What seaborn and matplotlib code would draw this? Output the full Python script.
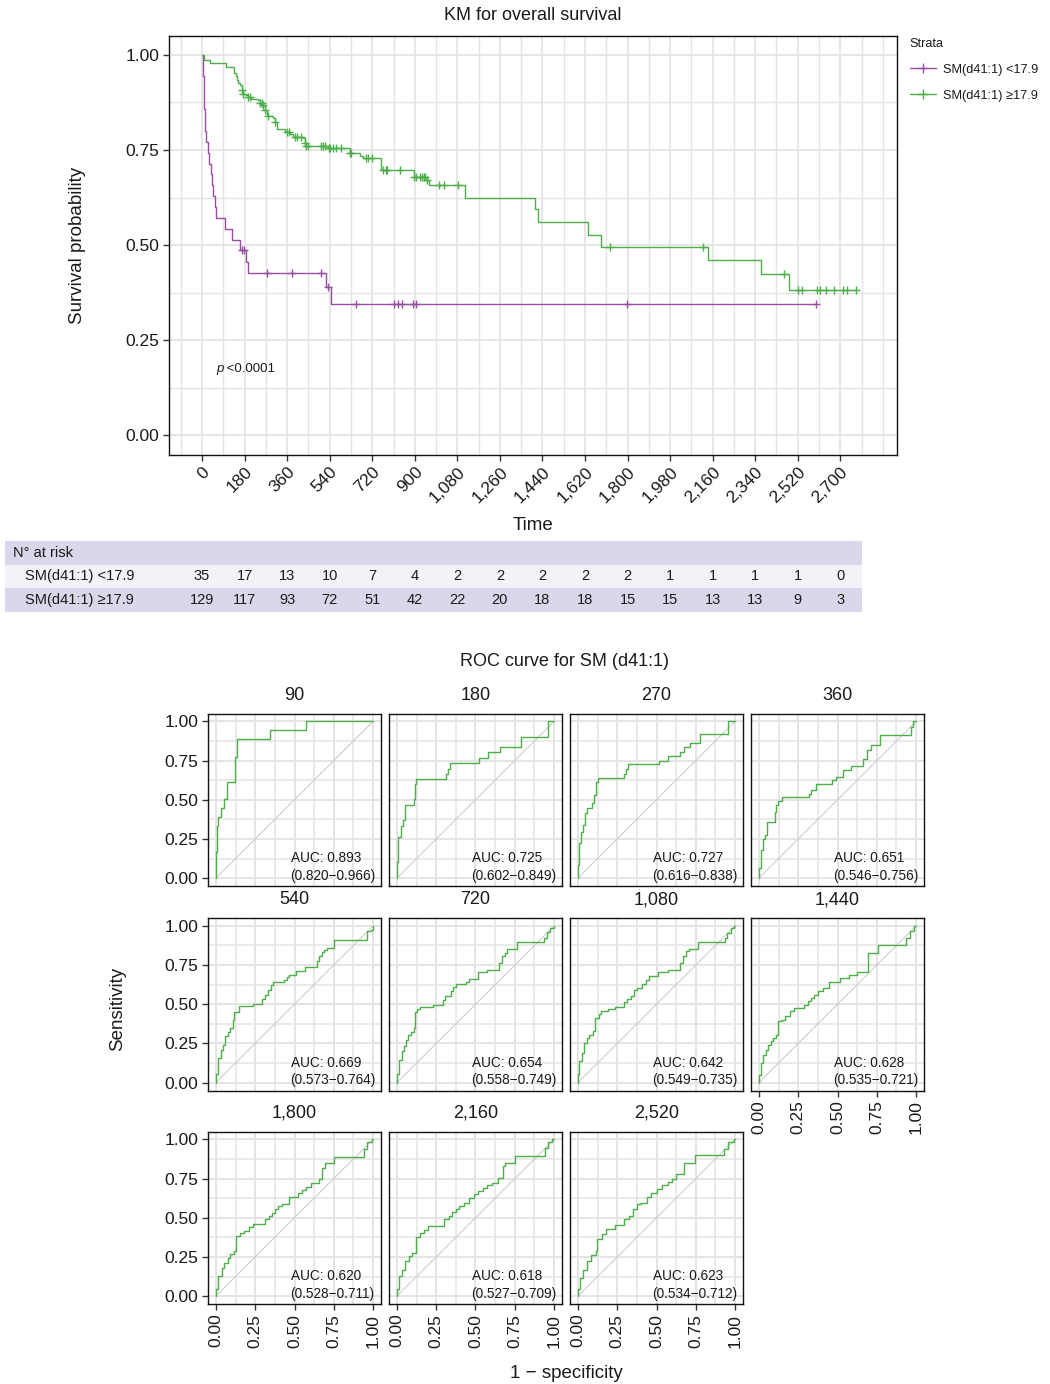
import numpy as np
import pandas as pd
import matplotlib
matplotlib.use("Agg")
import matplotlib.pyplot as plt
import seaborn as sns
from matplotlib.lines import Line2D
from matplotlib.patches import Rectangle
from matplotlib.ticker import MultipleLocator, FixedLocator

# ---------------------------------------------------------------- data
group_labels = ["SM(d41:1) <17.9", "SM(d41:1) \u226517.9"]
group_colors = ["#984EA3", "#4DAF4A"]

# Kaplan-Meier steps: event times (days) and survival after each step
km_time_lo = [0, 2, 4, 6, 8, 10, 12, 14, 18, 23, 30, 36, 41, 48, 53, 59,
              97, 125, 160, 186, 195, 526, 547]
km_surv_lo = [1.0, 0.971, 0.943, 0.914, 0.886, 0.857, 0.829, 0.800, 0.771,
              0.743, 0.714, 0.686, 0.657, 0.629, 0.600, 0.571, 0.543, 0.514,
              0.486, 0.456, 0.426, 0.389, 0.344]
km_censor_lo = [167, 177, 276, 381, 502, 533, 650, 811, 828, 847, 892, 906,
                1799, 2596]

km_time_hi = [0, 6, 34, 100, 136, 142, 146, 153, 160, 167, 174, 186, 195,
              205, 238, 245, 259, 266, 273, 280, 301, 308, 318, 350, 371,
              385, 427, 434, 441, 533, 624, 666, 680, 758, 898, 950, 958,
              1114, 1409, 1422, 1633, 1686, 2141, 2364, 2484]
km_surv_hi = [1.0, 0.986, 0.977, 0.968, 0.953, 0.945, 0.933, 0.926, 0.920,
              0.907, 0.898, 0.894, 0.890, 0.885, 0.881, 0.874, 0.868, 0.855,
              0.842, 0.839, 0.833, 0.824, 0.806, 0.798, 0.793, 0.785, 0.780,
              0.767, 0.760, 0.754, 0.741, 0.734, 0.728, 0.697, 0.680, 0.672,
              0.658, 0.625, 0.594, 0.560, 0.527, 0.495, 0.460, 0.424, 0.382]
km_censor_hi = [167, 174, 195, 203, 245, 252, 259, 266, 280, 308, 361, 368,
                392, 402, 420, 434, 441, 448, 502, 512, 522, 537, 543, 554,
                568, 589, 627, 631, 695, 702, 720, 765, 776, 783, 838, 898,
                905, 922, 931, 938, 943, 952, 1004, 1025, 1084, 1726, 2119,
                2460, 2520, 2537, 2600, 2615, 2638, 2675, 2713, 2727, 2765]

risk_times = list(range(0, 2701, 180))
risk_lo = [35, 17, 13, 10, 7, 4, 2, 2, 2, 2, 2, 1, 1, 1, 1, 0]
risk_hi = [129, 117, 93, 72, 51, 42, 22, 20, 18, 18, 15, 15, 13, 13, 9, 3]

p_value_text = "<0.0001"

# time-dependent ROC curves (1 - specificity, sensitivity)
roc_fpr_90 = [0, 0, 0.006, 0.011, 0.032, 0.054, 0.069, 0.122, 0.124, 0.124, 0.133, 0.137, 0.347, 0.574, 1.0]
roc_tpr_90 = [0, 0.17, 0.33, 0.39, 0.446, 0.503, 0.611, 0.665, 0.72, 0.775, 0.834, 0.89, 0.945, 1.0, 1.0]

roc_fpr_180 = [0, 0, 0.009, 0.028, 0.036, 0.049, 0.107, 0.113, 0.122, 0.310, 0.323, 0.338, 0.525, 0.578, 0.653, 0.790, 0.964, 1.0]
roc_tpr_180 = [0, 0.102, 0.265, 0.333, 0.372, 0.465, 0.503, 0.599, 0.633, 0.665, 0.699, 0.735, 0.769, 0.803, 0.837, 0.902, 1.0, 1.0]

roc_fpr_270 = [0, 0, 0.009, 0.017, 0.030, 0.045, 0.058, 0.092, 0.101, 0.113, 0.131, 0.293, 0.304, 0.321, 0.514, 0.574, 0.651, 0.672, 0.715, 0.779, 0.957, 1.0]
roc_tpr_270 = [0, 0.085, 0.223, 0.297, 0.340, 0.414, 0.446, 0.482, 0.531, 0.616, 0.641, 0.665, 0.694, 0.728, 0.749, 0.779, 0.807, 0.837, 0.864, 0.919, 1.0, 1.0]

roc_fpr_360 = [0, 0, 0.011, 0.026, 0.039, 0.054, 0.103, 0.111, 0.124, 0.146, 0.317, 0.332, 0.364, 0.467, 0.488, 0.535, 0.589, 0.664, 0.690, 0.711, 0.771, 0.968, 0.981, 1.0]
roc_tpr_360 = [0, 0.064, 0.180, 0.248, 0.276, 0.355, 0.425, 0.467, 0.493, 0.516, 0.535, 0.563, 0.601, 0.626, 0.648, 0.690, 0.716, 0.758, 0.817, 0.849, 0.913, 0.966, 1.0, 1.0]

roc_fpr_540 = [0, 0, 0.011, 0.032, 0.047, 0.060, 0.075, 0.090, 0.107, 0.118, 0.146, 0.236, 0.296, 0.310, 0.332, 0.349, 0.364, 0.435, 0.454, 0.467, 0.510, 0.567, 0.642, 0.657, 0.675, 0.690, 0.707, 0.754, 0.964, 0.985, 1.0]
roc_tpr_540 = [0, 0.057, 0.157, 0.210, 0.242, 0.295, 0.321, 0.348, 0.401, 0.450, 0.486, 0.503, 0.535, 0.556, 0.588, 0.620, 0.641, 0.656, 0.673, 0.684, 0.715, 0.737, 0.775, 0.807, 0.832, 0.847, 0.858, 0.911, 0.966, 0.975, 1.0]

roc_fpr_720 = [0, 0, 0.013, 0.030, 0.047, 0.060, 0.073, 0.088, 0.109, 0.116, 0.131, 0.146, 0.227, 0.291, 0.308, 0.345, 0.355, 0.373, 0.441, 0.458, 0.516, 0.570, 0.651, 0.666, 0.687, 0.702, 0.762, 0.934, 0.955, 0.976, 0.998, 1.0]
roc_tpr_720 = [0, 0.057, 0.146, 0.200, 0.231, 0.274, 0.306, 0.321, 0.348, 0.448, 0.469, 0.480, 0.497, 0.529, 0.550, 0.582, 0.609, 0.631, 0.645, 0.660, 0.703, 0.720, 0.762, 0.805, 0.830, 0.851, 0.900, 0.921, 0.958, 0.985, 1.0, 1.0]

roc_fpr_1080 = [0, 0, 0.009, 0.026, 0.039, 0.058, 0.073, 0.094, 0.111, 0.133, 0.150, 0.193, 0.236, 0.293, 0.315, 0.336, 0.358, 0.379, 0.407, 0.433, 0.450, 0.507, 0.572, 0.651, 0.668, 0.690, 0.707, 0.764, 0.936, 0.951, 0.972, 0.994, 1.0]
roc_tpr_1080 = [0, 0.057, 0.136, 0.189, 0.253, 0.285, 0.306, 0.327, 0.412, 0.439, 0.454, 0.469, 0.482, 0.512, 0.533, 0.550, 0.592, 0.603, 0.631, 0.652, 0.677, 0.703, 0.720, 0.762, 0.805, 0.837, 0.851, 0.894, 0.921, 0.953, 0.985, 1.0, 1.0]

roc_fpr_1440 = [0, 0, 0.011, 0.026, 0.043, 0.060, 0.075, 0.092, 0.111, 0.124, 0.150, 0.167, 0.197, 0.225, 0.289, 0.310, 0.332, 0.353, 0.375, 0.407, 0.445, 0.514, 0.574, 0.621, 0.692, 0.756, 0.938, 0.959, 0.985, 1.0]
roc_tpr_1440 = [0, 0.051, 0.125, 0.178, 0.210, 0.242, 0.263, 0.285, 0.306, 0.391, 0.401, 0.423, 0.454, 0.476, 0.497, 0.518, 0.539, 0.561, 0.582, 0.603, 0.645, 0.667, 0.688, 0.703, 0.830, 0.879, 0.921, 0.964, 1.0, 1.0]

roc_fpr_1800 = [0, 0, 0.012, 0.037, 0.054, 0.074, 0.091, 0.115, 0.128, 0.152, 0.177, 0.209, 0.233, 0.312, 0.337, 0.356, 0.373, 0.398, 0.423, 0.464, 0.521, 0.545, 0.570, 0.607, 0.656, 0.676, 0.693, 0.754, 0.939, 0.963, 0.995, 1.0]
roc_tpr_1800 = [0, 0.047, 0.128, 0.181, 0.213, 0.245, 0.266, 0.287, 0.383, 0.404, 0.415, 0.443, 0.462, 0.489, 0.511, 0.532, 0.557, 0.574, 0.589, 0.634, 0.655, 0.677, 0.696, 0.719, 0.745, 0.819, 0.851, 0.889, 0.940, 0.983, 1.0, 1.0]

roc_fpr_2160 = [0, 0, 0.012, 0.034, 0.054, 0.074, 0.098, 0.120, 0.145, 0.172, 0.197, 0.300, 0.329, 0.349, 0.373, 0.398, 0.428, 0.459, 0.491, 0.516, 0.545, 0.570, 0.607, 0.644, 0.673, 0.688, 0.754, 0.939, 0.963, 0.988, 1.0]
roc_tpr_2160 = [0, 0.043, 0.128, 0.170, 0.223, 0.255, 0.277, 0.379, 0.400, 0.421, 0.447, 0.489, 0.511, 0.536, 0.557, 0.574, 0.596, 0.628, 0.649, 0.670, 0.691, 0.709, 0.723, 0.755, 0.830, 0.851, 0.894, 0.947, 0.983, 1.0, 1.0]

roc_fpr_2520 = [0, 0, 0.015, 0.032, 0.057, 0.081, 0.113, 0.123, 0.155, 0.180, 0.236, 0.296, 0.328, 0.352, 0.377, 0.401, 0.438, 0.463, 0.500, 0.537, 0.574, 0.599, 0.623, 0.672, 0.746, 0.931, 0.956, 0.993, 1.0]
roc_tpr_2520 = [0, 0.047, 0.117, 0.170, 0.223, 0.260, 0.287, 0.366, 0.394, 0.426, 0.451, 0.489, 0.511, 0.557, 0.585, 0.596, 0.634, 0.660, 0.681, 0.706, 0.728, 0.749, 0.781, 0.851, 0.898, 0.940, 0.983, 1.0, 1.0]

roc_times = ["90", "180", "270", "360", "540", "720", "1,080", "1,440",
             "1,800", "2,160", "2,520"]
roc_auc = ["0.893", "0.725", "0.727", "0.651", "0.669", "0.654", "0.642",
           "0.628", "0.620", "0.618", "0.623"]
roc_ci = [("0.820", "0.966"), ("0.602", "0.849"), ("0.616", "0.838"),
          ("0.546", "0.756"), ("0.573", "0.764"), ("0.558", "0.749"),
          ("0.549", "0.735"), ("0.535", "0.721"), ("0.528", "0.711"),
          ("0.527", "0.709"), ("0.534", "0.712")]
roc_curves = [
    (roc_fpr_90, roc_tpr_90), (roc_fpr_180, roc_tpr_180),
    (roc_fpr_270, roc_tpr_270), (roc_fpr_360, roc_tpr_360),
    (roc_fpr_540, roc_tpr_540), (roc_fpr_720, roc_tpr_720),
    (roc_fpr_1080, roc_tpr_1080), (roc_fpr_1440, roc_tpr_1440),
    (roc_fpr_1800, roc_tpr_1800), (roc_fpr_2160, roc_tpr_2160),
    (roc_fpr_2520, roc_tpr_2520),
]

# ---------------------------------------------------------------- style
sns.set_theme(style="white")
plt.rcParams["font.family"] = ["Liberation Sans", "DejaVu Sans"]
plt.rcParams["axes.unicode_minus"] = True

W, H = 1050, 1384
fig = plt.figure(figsize=(W / 100, H / 100), dpi=100)
GRID = "#e4e4e4"
TXT = "#1a1a1a"


def px_axes(left, top, right, bottom):
    return fig.add_axes([left / W, 1 - bottom / H, (right - left) / W,
                         (bottom - top) / H])


def frame(ax):
    for s in ax.spines.values():
        s.set_visible(True)
        s.set_color("#111111")
        s.set_linewidth(1.0)


# ---------------------------------------------------------------- KM plot
KM_L, KM_T, KM_R, KM_B = 169, 35.7, 897, 454.5
KM_XLIM = (-140, 2940)
ax = px_axes(KM_L, KM_T, KM_R, KM_B)
ax.set_xlim(*KM_XLIM)
ax.set_ylim(-0.05, 1.05)
ax.set_axisbelow(True)
frame(ax)

ax.xaxis.set_major_locator(FixedLocator(risk_times))
ax.xaxis.set_minor_locator(MultipleLocator(90))
ax.yaxis.set_major_locator(MultipleLocator(0.25))
ax.yaxis.set_minor_locator(MultipleLocator(0.125))
ax.grid(True, which="major", color=GRID, lw=1.3)
ax.grid(True, which="minor", color=GRID, lw=1.0)
ax.set_xticks(risk_times)
ax.set_xticklabels([f"{t:,}" for t in risk_times])
ax.set_yticks([0, 0.25, 0.5, 0.75, 1.0])
ax.set_yticklabels(["0.00", "0.25", "0.50", "0.75", "1.00"])
ax.tick_params(which="major", length=4, width=1.0, color="#333333",
               labelsize=12.5, labelcolor=TXT, pad=3, bottom=True, left=True)
ax.tick_params(which="minor", length=0)
plt.setp(ax.get_xticklabels(), rotation=45, ha="right", va="top",
         rotation_mode="anchor")


def surv_at(times, surv, t):
    idx = np.searchsorted(times, t, side="right") - 1
    return np.asarray(surv)[idx]


km_groups = [(km_time_lo, km_surv_lo, km_censor_lo),
             (km_time_hi, km_surv_hi, km_censor_hi)]
for (tms, sv, cens), col, lab in zip(km_groups, group_colors, group_labels):
    end = max(cens)
    df = pd.DataFrame({"time": list(tms) + [end], "surv": list(sv) + [sv[-1]]})
    sns.lineplot(data=df, x="time", y="surv", drawstyle="steps-post",
                 estimator=None, sort=False, color=col, lw=1.0, ax=ax)
    cdf = pd.DataFrame({"time": cens,
                        "surv": [surv_at(tms, sv, c) for c in cens]})
    sns.scatterplot(data=cdf, x="time", y="surv", marker="+", s=40,
                    color=col, linewidth=1.0, ax=ax, zorder=3)

ax.set_xlabel("")
ax.set_ylabel("")

ptxt = ax.text(59, 0.158, "p", style="italic", fontsize=9.5, color=TXT,
               ha="left", va="bottom")
ax.annotate(" " + p_value_text, xy=(1, 0), xycoords=ptxt, fontsize=9.5,
            color=TXT, ha="left", va="bottom")

fig.text((KM_L + KM_R) / 2 / W, 1 - 15 / H, "KM for overall survival",
         ha="center", va="center", fontsize=13, color=TXT)
fig.text((KM_L + KM_R) / 2 / W, 1 - 525 / H, "Time", ha="center",
         va="center", fontsize=13.5, color=TXT)
fig.text(78 / W, 1 - (KM_T + KM_B) / 2 / H, "Survival probability",
         rotation=90, ha="center", va="center", fontsize=13.5, color=TXT)

handles = [Line2D([], [], color=c, lw=1.0, marker="+", markersize=7,
                  markeredgewidth=1.0) for c in group_colors]
leg = ax.legend(handles, group_labels, title="Strata", loc="upper left",
                bbox_to_anchor=(907 / W, 1 - 35 / H),
                bbox_transform=fig.transFigure, frameon=False, fontsize=9.2,
                title_fontsize=9.2, handlelength=2.1, handletextpad=0.55,
                labelspacing=1.1, alignment="left", borderaxespad=0,
                borderpad=0.2)
for t in leg.get_texts():
    t.set_color(TXT)
leg.get_title().set_color(TXT)

# ---------------------------------------------------------------- at-risk table
TB_L, TB_R = 5, 862
px_per_day = (KM_R - KM_L) / (KM_XLIM[1] - KM_XLIM[0])
t_to_x = lambda px: KM_XLIM[0] + (px - KM_L) / px_per_day
tab = px_axes(TB_L, 541, TB_R, 611.5)
tab.set_xlim(t_to_x(TB_L), t_to_x(TB_R))
tab.set_ylim(3, 0)
tab.axis("off")
band_colors = ["#d9d7ea", "#f3f2f8", "#d9d7ea"]
for i, bc in enumerate(band_colors):
    tab.add_patch(Rectangle((t_to_x(TB_L), i), t_to_x(TB_R) - t_to_x(TB_L), 1,
                            facecolor=bc, edgecolor="none"))
tab.text(t_to_x(13), 0.5, "N\u00b0 at risk", ha="left", va="center",
         fontsize=10.5, color=TXT)
for row, (lab, vals) in enumerate(zip(group_labels, [risk_lo, risk_hi]), 1):
    tab.text(t_to_x(25), row + 0.5, lab, ha="left", va="center",
             fontsize=10.5, color=TXT)
    for t, v in zip(risk_times, vals):
        tab.text(t, row + 0.5, str(v), ha="center", va="center",
                 fontsize=10.5, color=TXT)

# ---------------------------------------------------------------- ROC panels
fig.text(565 / W, 1 - 661 / H, "ROC curve for SM (d41:1)", ha="center",
         va="center", fontsize=13, color=TXT)
col_left = [208, 389, 570, 751]
row_top = [713.5, 918, 1131.5]
PW, PH = 173, 172.5
n_panels = len(roc_curves)
for i, ((fpr, tpr), ttl, auc, ci) in enumerate(zip(roc_curves, roc_times,
                                                  roc_auc, roc_ci)):
    r, c = divmod(i, 4)
    a = px_axes(col_left[c], row_top[r], col_left[c] + PW, row_top[r] + PH)
    a.set_xlim(-0.05, 1.05)
    a.set_ylim(-0.05, 1.05)
    a.set_axisbelow(True)
    frame(a)
    a.xaxis.set_major_locator(MultipleLocator(0.25))
    a.xaxis.set_minor_locator(MultipleLocator(0.125))
    a.yaxis.set_major_locator(MultipleLocator(0.25))
    a.yaxis.set_minor_locator(MultipleLocator(0.125))
    a.grid(True, which="major", color=GRID, lw=1.4)
    a.grid(True, which="minor", color=GRID, lw=1.1)
    a.plot([0, 1], [0, 1], color="#c8c8c8", lw=0.7, zorder=1)
    sns.lineplot(x=fpr, y=tpr, drawstyle="steps-post", estimator=None,
                 sort=False, color=group_colors[1], lw=1.0, ax=a, zorder=2)
    a.text(0.475, -0.03, f"AUC: {auc}\n({ci[0]}\u2212{ci[1]})", ha="left",
           va="bottom", fontsize=9.8, color=TXT, linespacing=1.35)
    a.set_title(ttl, fontsize=13, color=TXT, pad=10)
    show_x = (i + 4) >= n_panels
    show_y = c == 0
    ticks = [0, 0.25, 0.5, 0.75, 1.0]
    labels = ["0.00", "0.25", "0.50", "0.75", "1.00"]
    a.set_xticks(ticks)
    a.set_yticks(ticks)
    a.tick_params(which="minor", length=0)
    a.tick_params(axis="x", which="major", bottom=show_x, length=4,
                  width=1.0, color="#333333", labelsize=12.5,
                  labelcolor=TXT, pad=3, labelbottom=show_x)
    a.tick_params(axis="y", which="major", left=show_y, length=4,
                  width=1.0, color="#333333", labelsize=12.5,
                  labelcolor=TXT, pad=3, labelleft=show_y)
    if show_x:
        a.set_xticklabels(labels, rotation=90, va="top", ha="center")
    if show_y:
        a.set_yticklabels(labels)
    a.set_xlabel("")
    a.set_ylabel("")

fig.text(118 / W, 1 - (row_top[0] + row_top[2] + PH) / 2 / H, "Sensitivity",
         rotation=90, ha="center", va="center", fontsize=13.5, color=TXT)
fig.text((col_left[0] + col_left[3] + PW) / 2 / W, 1 - 1373 / H,
         "1 \u2212 specificity", ha="center", va="center", fontsize=13.5,
         color=TXT)

fig.savefig("out.png", dpi=100, facecolor="white")
